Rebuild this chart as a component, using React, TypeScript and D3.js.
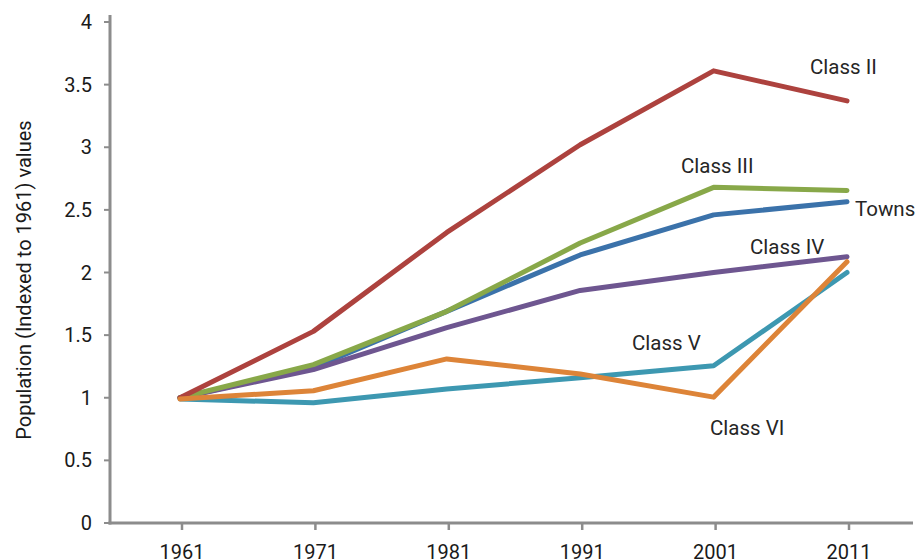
import React, { useRef, useEffect } from "react";
import * as d3 from "d3";

const years = ["1961", "1971", "1981", "1991", "2001", "2011"];
const yTicks = [0, 0.5, 1, 1.5, 2, 2.5, 3, 3.5, 4];

// values, one array per series
const towns = [1.0, 1.24, 1.69, 2.14, 2.46, 2.565];
const classV = [0.99, 0.96, 1.07, 1.16, 1.255, 2.0];
const classIV = [1.0, 1.225, 1.56, 1.857, 2.0, 2.126];
const classIII = [1.0, 1.265, 1.69, 2.235, 2.68, 2.655];
const classII = [1.0, 1.53, 2.32, 3.02, 3.61, 3.37];
const classVI = [0.99, 1.056, 1.31, 1.19, 1.005, 2.086];

const series = [
  { name: "Towns", values: towns, color: "#3b72aa", lx: 855, ly: 209 },
  { name: "Class V", values: classV, color: "#3d98b1", lx: 632, ly: 343 },
  { name: "Class IV", values: classIV, color: "#6e5690", lx: 750, ly: 247 },
  { name: "Class III", values: classIII, color: "#88a849", lx: 681, ly: 166 },
  { name: "Class II", values: classII, color: "#ad423e", lx: 810, ly: 67 },
  { name: "Class VI", values: classVI, color: "#dd8438", lx: 710, ly: 428 },
];

export default function App() {
  const svgRef = useRef<SVGSVGElement>(null);

  const width = 918;
  const height = 560;
  const axisX = 110;
  const axisY = 523;
  const axisRight = 913;

  useEffect(() => {
    const svg = d3.select(svgRef.current);
    svg.selectAll("*").remove();

    const x = d3.scalePoint<string>().domain(years).range([180, 847]);
    const y = d3.scaleLinear().domain([0, 4]).range([axisY, 22]);

    const g = svg.append("g").style("font-family", "Roboto, sans-serif");

    // y axis
    g.append("line")
      .attr("x1", axisX).attr("x2", axisX)
      .attr("y1", 15).attr("y2", axisY + 1.5)
      .attr("stroke", "#8c8c8c").attr("stroke-width", 3);
    g.selectAll(".ytick")
      .data(yTicks)
      .enter()
      .append("line")
      .attr("x1", axisX - 6).attr("x2", axisX)
      .attr("y1", (d) => y(d)).attr("y2", (d) => y(d))
      .attr("stroke", "#8c8c8c").attr("stroke-width", 2);
    g.selectAll(".ylab")
      .data(yTicks)
      .enter()
      .append("text")
      .attr("x", 92)
      .attr("y", (d) => y(d))
      .attr("dy", "0.35em")
      .attr("text-anchor", "end")
      .attr("font-size", 20)
      .attr("fill", "#1a1a1a")
      .text((d) => String(d));

    // x axis
    g.append("line")
      .attr("x1", axisX - 1.5).attr("x2", axisRight)
      .attr("y1", axisY).attr("y2", axisY)
      .attr("stroke", "#8c8c8c").attr("stroke-width", 3);
    g.selectAll(".xtick")
      .data(years)
      .enter()
      .append("line")
      .attr("x1", (d) => x(d)! + 2).attr("x2", (d) => x(d)! + 2)
      .attr("y1", axisY).attr("y2", axisY + 7)
      .attr("stroke", "#8c8c8c").attr("stroke-width", 2.5);
    g.selectAll(".xlab")
      .data(years)
      .enter()
      .append("text")
      .attr("x", (d) => x(d)! + 2)
      .attr("y", 559)
      .attr("text-anchor", "middle")
      .attr("font-size", 20)
      .attr("fill", "#1a1a1a")
      .text((d) => d);

    // y axis title
    g.append("text")
      .attr("transform", `translate(31, 280) rotate(-90)`)
      .attr("text-anchor", "middle")
      .attr("font-size", 20)
      .attr("fill", "#1a1a1a")
      .text("Population (Indexed to 1961) values");

    // lines
    const line = d3
      .line<number>()
      .x((_, i) => x(years[i])!)
      .y((d) => y(d));

    g.selectAll(".series")
      .data(series)
      .enter()
      .append("path")
      .attr("d", (s) => line(s.values))
      .attr("fill", "none")
      .attr("stroke", (s) => s.color)
      .attr("stroke-width", 5)
      .attr("stroke-linejoin", "round")
      .attr("stroke-linecap", "round");

    // series labels
    g.selectAll(".slab")
      .data(series)
      .enter()
      .append("text")
      .attr("x", (s) => s.lx)
      .attr("y", (s) => s.ly)
      .attr("dy", "0.35em")
      .attr("font-size", 20.5)
      .attr("fill", "#262626")
      .text((s) => s.name);
  }, []);

  return (
    <svg
      ref={svgRef}
      width={width}
      height={height}
      style={{ position: "absolute", left: 0, top: 0, background: "#fff" }}
    />
  );
}
